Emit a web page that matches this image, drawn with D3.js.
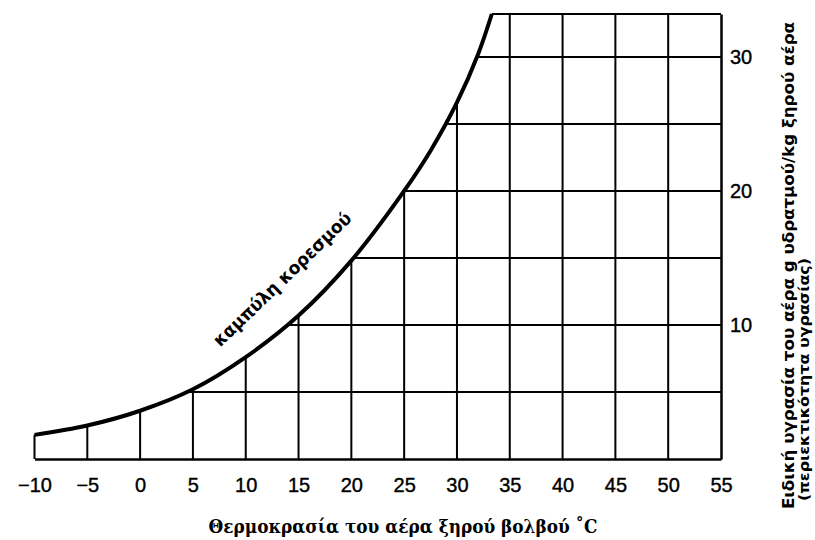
<!DOCTYPE html>
<html>
<head>
<meta charset="utf-8">
<script src="https://cdn.jsdelivr.net/npm/d3@7"></script>
<style>
  html, body { margin: 0; padding: 0; background: #fff; }
  svg { display: block; }
</style>
</head>
<body>
<svg id="chart" width="815" height="540"></svg>
<script>
// ---- data ----
const curveTemps = [-10, -5, 0, 5, 10, 15, 20, 25, 27.5, 30, 32, 33.3];
const curveHumidity = [1.8, 2.5, 3.6, 5.2, 7.6, 10.7, 14.8, 20, 23, 26.6, 30.2, 33.2];
const xTickValues = [-10, -5, 0, 5, 10, 15, 20, 25, 30, 35, 40, 45, 50, 55];
const yTickValues = [10, 20, 30];
const gridTemps = [-10, -5, 0, 5, 10, 15, 20, 25, 30, 35, 40, 45, 50];
const gridHumidity = [5, 10, 15, 20, 25, 30];
const xDomain = [-10, 55];
const yDomain = [0, 33.2];
const xTitle = "Θερμοκρασία του αέρα ξηρού βολβού ˚C";
const yTitle1 = "Ειδική υγρασία του αέρα g υδρατμού/kg ξηρού αέρα";
const yTitle2 = "(περιεκτικότητα υγρασίας)";
const curveLabel = "καμπύλη κορεσμού";

const svg = d3.select("#chart");
const x = d3.scaleLinear().domain(xDomain).range([34.5, 721]);
const y = d3.scaleLinear().domain(yDomain).range([459, 14]);

const pts = curveTemps.map((t, i) => [t, curveHumidity[i]]);
const line = d3.line().x(d => x(d[0])).y(d => y(d[1])).curve(d3.curveCatmullRom.alpha(0.5));

// clip region: below / right of the saturation curve
const curvePath = line(pts);
const clipD = curvePath +
  `L${x(xDomain[1]) + 3},${y(yDomain[1])}` +
  `L${x(xDomain[1]) + 3},${y(0) + 3}` +
  `L${x(xDomain[0]) - 3},${y(0) + 3}` +
  `L${x(xDomain[0]) - 3},${y(curveHumidity[0])}Z`;
svg.append("defs").append("clipPath").attr("id", "under")
  .append("path").attr("d", clipD);

const grid = svg.append("g").attr("clip-path", "url(#under)")
  .attr("stroke", "#000").attr("stroke-width", 2);
grid.selectAll("line.v").data(gridTemps).join("line")
  .attr("class", "v")
  .attr("x1", d => x(d)).attr("x2", d => x(d))
  .attr("y1", y(0)).attr("y2", y(yDomain[1]));
grid.selectAll("line.h").data(gridHumidity).join("line")
  .attr("class", "h")
  .attr("x1", x(xDomain[0])).attr("x2", x(xDomain[1]))
  .attr("y1", d => y(d)).attr("y2", d => y(d));

// top border from curve end to right axis
svg.append("line")
  .attr("x1", x(curveTemps[curveTemps.length - 1])).attr("x2", x(xDomain[1]))
  .attr("y1", y(yDomain[1])).attr("y2", y(yDomain[1]))
  .attr("stroke", "#000").attr("stroke-width", 1.8);

// axes
const xAxis = d3.axisBottom(x).tickValues(xTickValues).tickSize(0).tickSizeOuter(0).tickPadding(19)
  .tickFormat(d => d < 0 ? "−" + Math.abs(d) : d);
const gx = svg.append("g").attr("transform", `translate(0,${y(0)})`).call(xAxis);
gx.select(".domain").attr("stroke", "#000").attr("stroke-width", 2.5);
gx.selectAll("text").attr("font-family", "Liberation Sans, Arial, sans-serif")
  .attr("font-size", 20).attr("fill", "#000").attr("stroke", "#000").attr("stroke-width", 0.4);

const yAxis = d3.axisRight(y).tickValues(yTickValues).tickSize(0).tickSizeOuter(0).tickPadding(9);
const gy = svg.append("g").attr("transform", `translate(${x(xDomain[1])},0)`).call(yAxis);
gy.select(".domain").attr("stroke", "#000").attr("stroke-width", 2.5);
gy.selectAll("text").attr("font-family", "Liberation Sans, Arial, sans-serif")
  .attr("font-size", 20).attr("fill", "#000").attr("stroke", "#000").attr("stroke-width", 0.4);

// saturation curve
svg.append("path").attr("d", curvePath)
  .attr("fill", "none").attr("stroke", "#000").attr("stroke-width", 4)
  .attr("stroke-linecap", "butt");

// curve label
svg.append("text")
  .attr("transform", "translate(282,279) rotate(-44)")
  .attr("text-anchor", "middle").attr("dominant-baseline", "central")
  .attr("font-family", "DejaVu Sans, sans-serif").attr("font-weight", "bold")
  .attr("font-size", 18).attr("textLength", 184).attr("lengthAdjust", "spacingAndGlyphs")
  .text(curveLabel);

// x title
svg.append("text")
  .attr("x", 403).attr("y", 533).attr("text-anchor", "middle")
  .attr("font-family", "DejaVu Serif, serif").attr("font-weight", "bold")
  .attr("font-size", 18).attr("textLength", 389).attr("lengthAdjust", "spacingAndGlyphs")
  .text(xTitle);

// y title (rotated, on the right)
svg.append("text")
  .attr("transform", "translate(794,509) rotate(-90)")
  .attr("text-anchor", "start")
  .attr("font-family", "DejaVu Sans, sans-serif").attr("font-weight", "bold")
  .attr("font-size", 15).attr("textLength", 487).attr("lengthAdjust", "spacingAndGlyphs")
  .text(yTitle1);
svg.append("text")
  .attr("transform", "translate(809,501) rotate(-90)")
  .attr("text-anchor", "start")
  .attr("font-family", "DejaVu Sans, sans-serif").attr("font-weight", "bold")
  .attr("font-size", 14).attr("textLength", 243).attr("lengthAdjust", "spacingAndGlyphs")
  .text(yTitle2);
</script>
</body>
</html>
